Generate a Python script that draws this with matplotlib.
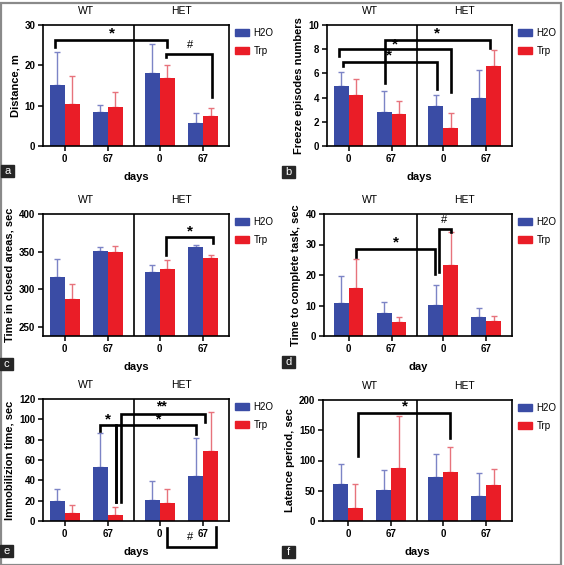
import matplotlib
matplotlib.use("Agg")
import matplotlib.pyplot as plt
from matplotlib.patches import Patch, Rectangle
import numpy as np

plt.rcParams['font.family'] = ['Liberation Sans', 'DejaVu Sans']

# ---------------- data ----------------
groups = ["WT", "HET"]
day_labels = ["0", "67", "0", "67"]
series = ["H2O", "Trp"]

# panel a: Distance, m
a_h2o = [15.2, 8.4, 18.2, 5.6]
a_h2o_err = [8.2, 1.8, 7.1, 2.7]
a_trp = [10.3, 9.7, 16.9, 7.5]
a_trp_err = [7.1, 3.6, 3.3, 1.9]

# panel b: Freeze episodes numbers
b_h2o = [5.0, 2.85, 3.3, 4.0]
b_h2o_err = [1.1, 1.7, 0.95, 2.3]
b_trp = [4.2, 2.65, 1.45, 6.6]
b_trp_err = [1.3, 1.05, 1.25, 1.3]

# panel c: Time in closed areas, sec
c_h2o = [315.8, 350.4, 323.5, 356.0]
c_h2o_err = [23.9, 5.6, 8.5, 2.8]
c_trp = [287.2, 350.0, 326.5, 341.6]
c_trp_err = [19.8, 8.0, 12.0, 3.4]

# panel d: Time to complete task, sec
d_h2o = [10.9, 7.4, 10.3, 6.2]
d_h2o_err = [8.9, 3.9, 6.5, 3.1]
d_trp = [15.9, 4.6, 23.2, 4.9]
d_trp_err = [9.4, 1.6, 11.0, 1.7]

# panel e: Immobilizion time, sec
e_h2o = [19.8, 53.4, 20.4, 44.2]
e_h2o_err = [11.2, 33.0, 19.2, 37.6]
e_trp = [7.9, 5.6, 17.5, 68.9]
e_trp_err = [7.9, 8.6, 13.8, 38.1]

# panel f: Latence period, sec
f_h2o = [60.4, 51.1, 72.5, 41.2]
f_h2o_err = [33.0, 33.5, 37.9, 37.8]
f_trp = [21.4, 87.4, 80.8, 58.8]
f_trp_err = [39.0, 85.6, 42.2, 27.5]

BLUE = "#3A4CA5"
RED = "#EA1D27"
BLUE_E = "#7C84C6"
RED_E = "#E7737C"

pos = np.array([0.0, 1.0, 2.2, 3.2])
W = 0.345
DIV = 1.6

W_PX, H_PX = 564, 565
fig = plt.figure(figsize=(W_PX / 100, H_PX / 100), dpi=100)


def add_ax(x1, y1, x2, y2):
    return fig.add_axes([x1 / W_PX, 1 - y2 / H_PX, (x2 - x1) / W_PX, (y2 - y1) / H_PX])


def bracket(ax, x1, x2, y, y1end, y2end, label, lx, ly, size=11):
    ax.plot([x1, x1, x2, x2], [y1end, y, y, y2end], color="black", lw=1.9,
            solid_joinstyle="miter", clip_on=False, zorder=5)
    ax.text(lx, ly, label, ha="center", va="center", fontsize=size,
            fontweight="bold" if label.startswith("*") else "normal", zorder=6)


def panel(box, h2o, h2o_err, trp, trp_err, ylim, yticks, ylabel, xlabel, letter, lpos, xl_left=-0.5):
    ax = add_ax(*box)
    ax.bar(pos - W / 2, h2o, W, color=BLUE, zorder=2)
    ax.bar(pos + W / 2, trp, W, color=RED, zorder=2)
    ax.errorbar(pos - W / 2, h2o, yerr=[np.zeros(4), h2o_err], fmt="none",
                ecolor=BLUE_E, elinewidth=1.0, capsize=2.5, capthick=1.0, zorder=1)
    ax.errorbar(pos + W / 2, trp, yerr=[np.zeros(4), trp_err], fmt="none",
                ecolor=RED_E, elinewidth=1.0, capsize=2.5, capthick=1.0, zorder=1)
    ax.set_xlim(xl_left, 3.8)
    ax.set_ylim(*ylim)
    ax.set_yticks(yticks)
    ax.set_xticks(pos)
    ax.set_xticklabels(day_labels)
    for lab in ax.get_xticklabels() + ax.get_yticklabels():
        lab.set_fontweight("bold")
    ax.tick_params(axis="both", labelsize=7, width=1.1, length=3.5, pad=2)
    for s in ax.spines.values():
        s.set_linewidth(1.2)
    ax.axvline(DIV, color="black", lw=1.2, zorder=3)
    ax.set_ylabel(ylabel, fontsize=8, fontweight="bold", labelpad=3)
    ax.set_xlabel(xlabel, fontsize=8, fontweight="bold", labelpad=6)
    # group labels
    tr = ax.get_xaxis_transform()
    ax.text((pos[0] + pos[1]) / 2, 1.115, groups[0], transform=tr, ha="center", va="center", fontsize=7.5)
    ax.text((pos[2] + pos[3]) / 2, 1.115, groups[1], transform=tr, ha="center", va="center", fontsize=7.5)
    # legend
    handles = [Patch(color=BLUE), Patch(color=RED)]
    ax.legend(handles, series, loc="upper left", bbox_to_anchor=(1.015, 1.0), frameon=False,
              fontsize=7, handlelength=1.45, handleheight=0.75, handletextpad=0.5,
              labelspacing=0.85, borderaxespad=0.0, borderpad=0.3)
    # panel letter
    lx, ly = lpos
    fig.patches.append(Rectangle((lx / W_PX, 1 - (ly + 12) / H_PX), 13 / W_PX, 12 / H_PX,
                                 transform=fig.transFigure, color="#262626", zorder=10))
    fig.text((lx + 6.5) / W_PX, 1 - (ly + 6) / H_PX, letter, color="white", ha="center",
             va="center", fontsize=8, zorder=11)
    return ax


b = W / 2
# panel a
ax = panel((43, 25, 229, 146), a_h2o, a_h2o_err, a_trp, a_trp_err, (0, 30), [0, 10, 20, 30],
           "Distance, m", "days", "a", (1, 165))
bracket(ax, pos[0] - b - 0.04, pos[2] + b, 26.3, 24.6, 24.6, "*", 1.1, 27.8)
bracket(ax, pos[2] + b - 0.02, pos[3] + b + 0.04, 22.7, 22.1, 12.2, "#", 2.89, 25.0, 8)

# panel b
ax = panel((327, 25, 512, 146), b_h2o, b_h2o_err, b_trp, b_trp_err, (0, 10), [0, 2, 4, 6, 8, 10],
           "Freeze episodes numbers", "days", "b", (282, 166))
bracket(ax, pos[0] - b + 0.04, pos[2] - b + 0.02, 6.96, 6.6, 4.75, "*", 0.93, 7.45)
bracket(ax, pos[0] - b - 0.06, pos[2] + b, 8.0, 7.4, 4.5, "*", 1.07, 8.4)
bracket(ax, pos[1] - b + 0.03, pos[3] + 0.1, 8.8, 5.2, 8.1, "*", 2.05, 9.3)

# panel c
ax = panel((43, 214, 229, 336), c_h2o, c_h2o_err, c_trp, c_trp_err, (238, 400), [250, 300, 350, 400],
           "Time in closed areas, sec", "days", "c", (0, 358))
bracket(ax, pos[2] + b - 0.04, pos[3] + b + 0.06, 370, 346, 362, "*", 2.89, 377)

# panel d
ax = panel((324, 214, 512, 336), d_h2o, d_h2o_err, d_trp, d_trp_err, (0, 40), [0, 10, 20, 30, 40],
           "Time to complete task, sec", "day", "d", (282, 356), xl_left=-0.57)
bracket(ax, pos[0] + b, pos[2] - b - 0.02, 28.6, 26.0, 20.3, "*", 1.11, 30.8)
bracket(ax, pos[2] - b + 0.07, pos[2] + b + 0.02, 35.0, 21.0, 34.0, "#", 2.22, 37.9, 8)

# panel e
ax = panel((43, 399, 229, 521), e_h2o, e_h2o_err, e_trp, e_trp_err, (0, 120), [0, 20, 40, 60, 80, 100, 120],
           "Immobilizion time, sec", "days", "e", (0, 545))
bracket(ax, pos[1] - b, pos[1] + b + 0.02, 94.6, 89.0, 18.8, "*", 1.0, 100.0)
bracket(ax, pos[1] + b + 0.02, pos[3] - b, 94.6, 18.8, 85.7, "*", 2.16, 99.5, 10)
bracket(ax, pos[1] + 0.31, pos[3] + 0.04, 105.2, 18.8, 96.9, "**", 2.24, 113.0, 10)
bracket(ax, pos[2] + b, pos[3] + 0.31, -25.7, -7.2, -5.9, "#", 2.91, -16.0, 8)

# panel f
ax = panel((323, 400, 512, 521), f_h2o, f_h2o_err, f_trp, f_trp_err, (0, 200), [0, 50, 100, 150, 200],
           "Latence period, sec", "days", "f", (282, 546), xl_left=-0.58)
bracket(ax, pos[0] + b + 0.07, pos[2] + b, 178, 108, 137, "*", 1.32, 189)

# outer border
fig.patches.append(Rectangle((0.5 / W_PX, 0.5 / H_PX), 1 - 4 / W_PX, 1 - 3 / H_PX,
                             transform=fig.transFigure, fill=False, edgecolor="#8a8a8a", lw=1.6))

fig.savefig("out.png", dpi=100)
